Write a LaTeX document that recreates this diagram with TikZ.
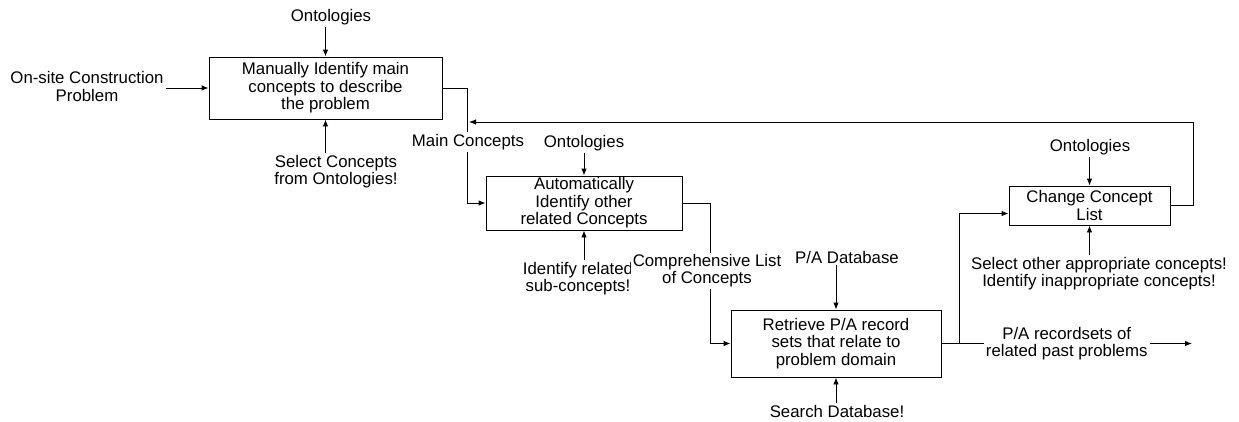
\documentclass[tikz,border=0pt]{standalone}
\usepackage{fontspec}
\setmainfont{Liberation Sans}
\usetikzlibrary{arrows.meta}
\tikzset{
  procbox/.style={draw,line width=0.9pt,inner sep=0pt,align=center,font=\fontsize{16.8}{17.6}\selectfont},
  lbl/.style={inner sep=2pt,align=center,font=\fontsize{16.8}{17.2}\selectfont},
  flow/.style={line width=0.9pt,-{Latex[length=7pt,width=5.5pt]}},
}
\begin{document}
\begin{tikzpicture}[x=1pt,y=-1pt]
                \useasboundingbox (0,0) rectangle (1239,421);
                %% activities
                \node[procbox,minimum width=233pt,minimum height=62pt] (manual) at (325.5,88) {Manually Identify main\\concepts to describe\\the problem};
                \node[procbox,minimum width=196pt,minimum height=54pt] (auto) at (584,203) {Automatically\\Identify other\\related Concepts};
                \node[procbox,minimum width=210pt,minimum height=67pt] (retrieve) at (836,343.5) {Retrieve P/A record\\sets that relate to\\problem domain};
                \node[procbox,minimum width=161pt,minimum height=39pt] (change) at (1089.5,205.5) {Change Concept\\List};
                %% inputs and controls
                \node[lbl] (ont1) at (331,17) {Ontologies};
                \node[lbl] (site) at (87,86.5) {On-site Construction\\Problem};
                \node[lbl] (selc) at (336,171.5) {Select Concepts\\from Ontologies!};
                \node[lbl] (ont2) at (584,143) {Ontologies};
                \node[lbl] (idrel) at (578,279) {Identify related\\sub-concepts!};
                \node[lbl] (padb) at (847,257) {P/A Database};
                \node[lbl] (search) at (837,411) {Search Database!};
                \node[lbl] (ont4) at (1090,147) {Ontologies};
                \node[lbl] (selo) at (1099,274) {Select other appropriate concepts!\\Identify inappropriate concepts!};
                \draw[flow] (ont1.south -| manual.north) -- (manual.north);
                \draw[flow] (site.east |- manual.west) -- (manual.west);
                \draw[flow] (selc.north -| manual.south) -- (manual.south);
                \draw[flow] (ont2.south -| auto.north) -- (auto.north);
                \draw[flow] (idrel.north -| auto.south) -- (auto.south);
                \draw[flow] (padb.south -| retrieve.north) -- (retrieve.north);
                \draw[flow] (search.north -| retrieve.south) -- (retrieve.south);
                \draw[flow] (ont4.south -| change.north) -- (change.north);
                \draw[flow] (selo.north -| change.south) -- (change.south);
                %% outputs
                \draw[flow] (manual.east) -- ++(25,0) |- (auto.west);
                \node[lbl,fill=white] (mainc) at (468,142) {Main Concepts};
                \draw[flow] (auto.east) -- ++(28,0) |- (retrieve.west);
                \node[lbl,fill=white] (complist) at (707,271) {Comprehensive List\\of Concepts};
                \draw[flow] (retrieve.east) -- ++(18,0) |- ([yshift=-8pt]change.west);
                \coordinate (outend) at (1192,343.5);
                \draw[flow] (retrieve.east) -- node[lbl,fill=white] (outp) {P/A recordsets of\\related past problems} (outend);
                %% feedback
                \coordinate (fbcorner) at (1193,122);
                \coordinate (fbend) at (469,122);
                \draw[flow] (change.east) -| (fbcorner) -- (fbend);
\end{tikzpicture}
\end{document}
